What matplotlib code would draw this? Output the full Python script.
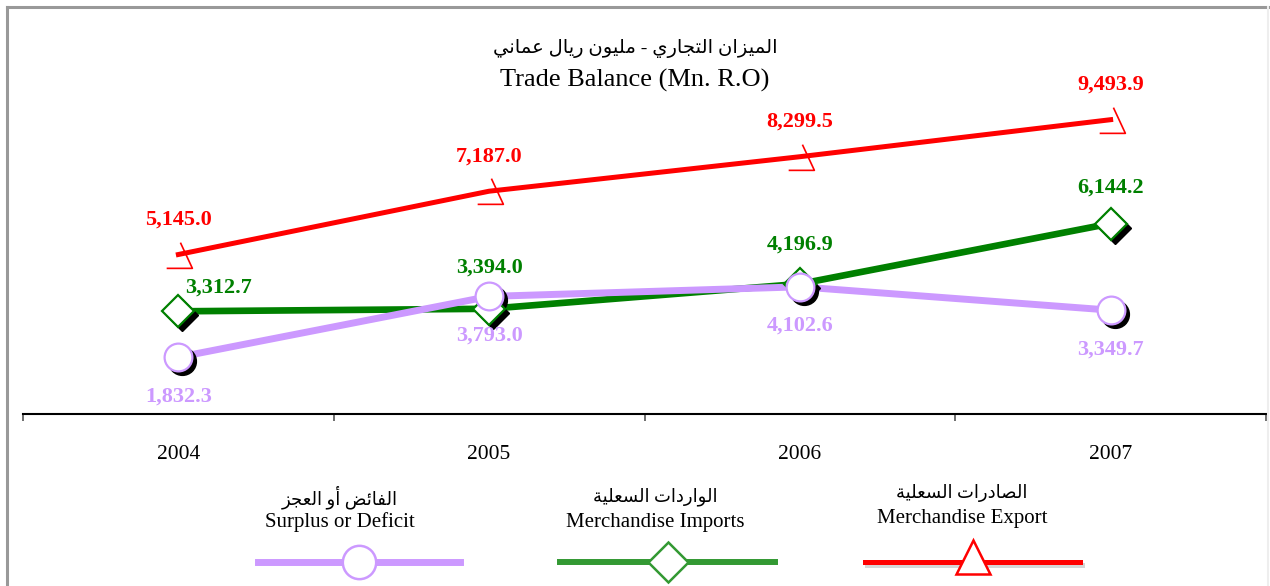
import matplotlib
matplotlib.use("Agg")
import matplotlib.pyplot as plt
from matplotlib.path import Path
from matplotlib.lines import Line2D
import matplotlib.transforms as mtransforms

# ---- data ----
years = ["2004", "2005", "2006", "2007"]
export_vals = [5145.0, 7187.0, 8299.5, 9493.9]
import_vals = [3312.7, 3394.0, 4196.9, 6144.2]
surplus_vals = [1832.3, 3793.0, 4102.6, 3349.7]

title_ar = "الميزان التجاري - مليون ريال عماني"
title_en = "Trade Balance (Mn. R.O)"
legend_ar = ["الفائض أو العجز", "الواردات السعلية", "الصادرات السعلية"]
legend_en = ["Surplus or Deficit", "Merchandise Imports", "Merchandise Export"]

RED = "#FF0000"
GREEN = "#008000"
PURPLE = "#CC99FF"

# ---- minimal arabic shaping (matplotlib has no complex text layout) ----
FORMS = {
    'ا': (0xFE8D, 0xFE8E, None, None), 'أ': (0xFE83, 0xFE84, None, None),
    'ب': (0xFE8F, 0xFE90, 0xFE91, 0xFE92), 'ة': (0xFE93, 0xFE94, None, None),
    'ت': (0xFE95, 0xFE96, 0xFE97, 0xFE98), 'ج': (0xFE9D, 0xFE9E, 0xFE9F, 0xFEA0),
    'د': (0xFEA9, 0xFEAA, None, None), 'ر': (0xFEAD, 0xFEAE, None, None),
    'ز': (0xFEAF, 0xFEB0, None, None), 'س': (0xFEB1, 0xFEB2, 0xFEB3, 0xFEB4),
    'ص': (0xFEB9, 0xFEBA, 0xFEBB, 0xFEBC), 'ض': (0xFEBD, 0xFEBE, 0xFEBF, 0xFEC0),
    'ع': (0xFEC9, 0xFECA, 0xFECB, 0xFECC), 'ف': (0xFED1, 0xFED2, 0xFED3, 0xFED4),
    'ل': (0xFEDD, 0xFEDE, 0xFEDF, 0xFEE0), 'م': (0xFEE1, 0xFEE2, 0xFEE3, 0xFEE4),
    'ن': (0xFEE5, 0xFEE6, 0xFEE7, 0xFEE8), 'و': (0xFEED, 0xFEEE, None, None),
    'ي': (0xFEF1, 0xFEF2, 0xFEF3, 0xFEF4), 'ئ': (0xFE89, 0xFE8A, 0xFE8B, 0xFE8C),
}


def shape(text):
    out = []
    for i, ch in enumerate(text):
        if ch not in FORMS:
            out.append(ch)
            continue
        prev = text[i - 1] if i > 0 else ""
        nxt = text[i + 1] if i + 1 < len(text) else ""
        joins_prev = prev in FORMS and FORMS[prev][2] is not None
        joins_next = FORMS[ch][2] is not None and nxt in FORMS
        iso, fin, ini, med = FORMS[ch]
        if joins_prev and joins_next:
            code = med
        elif joins_prev:
            code = fin
        elif joins_next:
            code = ini
        else:
            code = iso
        out.append(chr(code))
    return "".join(out)[::-1]


plt.rcParams['font.family'] = ['Liberation Serif', 'DejaVu Sans']

fig = plt.figure(figsize=(12.7, 5.86), dpi=100)
ax = fig.add_axes([23 / 1270, 1 - 414 / 586, 1243 / 1270, 372 / 586])
x = list(range(len(years)))

# marker shadows
shadow = mtransforms.offset_copy(ax.transData, fig=fig, x=4, y=-4, units='dots')
ax.plot(x, import_vals, ls='none', marker='D', ms=16, color='black', transform=shadow, zorder=3)
ax.plot(x, surplus_vals, ls='none', marker='o', ms=20, color='black', transform=shadow, zorder=3)

ax.plot(x, import_vals, color=GREEN, lw=4.8, zorder=2)
ax.plot(x, surplus_vals, color=PURPLE, lw=5.0, zorder=2.5)
ax.plot(x, export_vals, color=RED, lw=3.6, zorder=2)

ax.plot(x, import_vals, ls='none', marker='D', ms=16, mfc='white', mec=GREEN, mew=1.6, zorder=4)
ax.plot(x, surplus_vals, ls='none', marker='o', ms=20, mfc='white', mec=PURPLE, mew=1.6, zorder=4)

tri = Path([(0.15, 1.0), (1.08, -1.0), (-0.92, -1.0)], [Path.MOVETO, Path.LINETO, Path.LINETO])
ax.plot(x, export_vals, ls='none', marker=tri, ms=20, mfc='none', mec=RED, mew=1.2, zorder=4)

lab = dict(textcoords='offset pixels', ha='center', va='center', fontsize=16, fontweight='bold')
for i, v in enumerate(export_vals):
    ax.annotate(f"{v:,.1f}", (i, v), xytext=(0, 35), color=RED, **lab)
imp_off = [(40, 24), (0, 41), (0, 39), (0, 36)]
for i, v in enumerate(import_vals):
    ax.annotate(f"{v:,.1f}", (i, v), xytext=imp_off[i], color=GREEN, **lab)
for i, v in enumerate(surplus_vals):
    ax.annotate(f"{v:,.1f}", (i, v), xytext=(0, -39), color=PURPLE, **lab)

ax.set_xlim(-0.5, 3.5)
ax.set_ylim(0, 12000)
for s in ['top', 'right', 'left']:
    ax.spines[s].set_visible(False)
ax.spines['bottom'].set_linewidth(1.5)
ax.set_yticks([])
ax.set_xticks([-0.5, 0.5, 1.5, 2.5, 3.5])
ax.set_xticklabels([])
ax.set_xticks(x, minor=True)
ax.set_xticklabels(years, minor=True, fontsize=15.5)
ax.tick_params(axis='x', which='major', length=5, width=1.2, color='#555555', direction='out')
ax.tick_params(axis='x', which='minor', length=0, pad=22)

# title
fig.text(635 / 1270, 1 - 48 / 586, shape(title_ar), ha='center', va='center', fontsize=14)
fig.text(635 / 1270, 1 - 80 / 586, title_en, ha='center', va='center', fontsize=19)

# legend drawn by hand
lg = fig.add_axes([0, 0, 1, 1], zorder=-1)
lg.set_xlim(0, 1270)
lg.set_ylim(586, 0)
lg.axis('off')
entries = [
    (340, 258, 460, PURPLE, 'o', 24, 5.0, 497, 522),
    (655, 560, 775, '#339933', 'D', 20, 4.3, 497, 522),
    (962, 865, 1080, RED, '^', 24, 3.6, 493, 519),
]
for k, (cx, x0, x1, col, mk, ms, lw, ya, ye) in enumerate(entries):
    lg.text(cx, ya, shape(legend_ar[k]), ha='center', va='center', fontsize=13)
    lg.text(cx, ye, legend_en[k], ha='center', va='center', fontsize=15)
    if k == 2:
        lg.plot([x0 + 2, x1 + 2], [565, 565], color='#bbbbbb', lw=lw, alpha=0.6)
    lg.plot([x0, x1], [562, 562], color=col, lw=lw)
    lg.plot([(x0 + x1) / 2], [562 if mk != '^' else 557], marker=mk, ms=ms, mfc='white', mec=col, mew=1.8)

# frame
fig.add_artist(Line2D([7 / 1270, 1], [1 - 7 / 586] * 2, color='#999999', lw=2.2))
fig.add_artist(Line2D([7 / 1270] * 2, [0, 1 - 7 / 586], color='#999999', lw=2.2))
fig.add_artist(Line2D([1268 / 1270] * 2, [0, 1 - 7 / 586], color='#eeeeee', lw=1.5))

fig.savefig("out.png", dpi=100)
